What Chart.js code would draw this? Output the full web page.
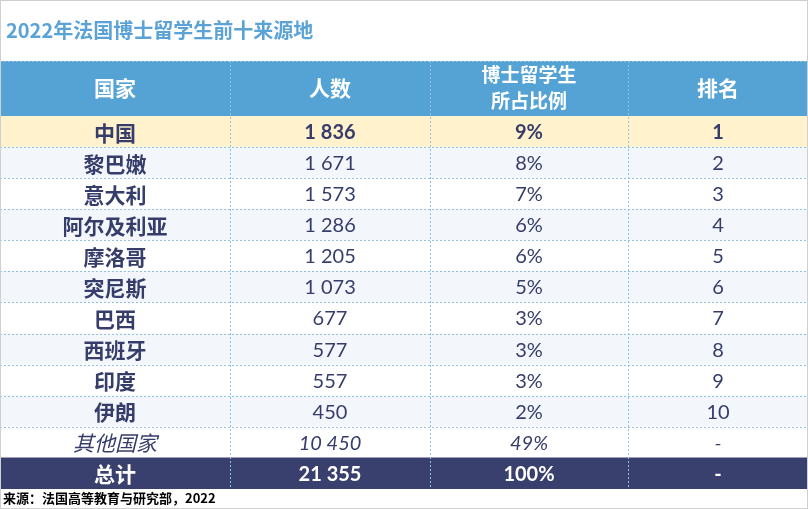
<!DOCTYPE html><html><head><meta charset="utf-8">
<script src="https://cdn.jsdelivr.net/npm/chart.js@4"></script>
<style>html,body{margin:0;padding:0;background:#fff}#w{width:808px;height:509px}</style></head><body><div id="w"><canvas id="c"></canvas></div>
<script>
const title = "2022年法国博士留学生前十来源地";
const headers = ["国家", "人数", "博士留学生\n所占比例", "排名"];
const countries = ["中国","黎巴嫩","意大利","阿尔及利亚","摩洛哥","突尼斯","巴西","西班牙","印度","伊朗","其他国家","总计"];
const counts = ["1 836","1 671","1 573","1 286","1 205","1 073","677","577","557","450","10 450","21 355"];
const shares = ["9%","8%","7%","6%","6%","5%","3%","3%","3%","2%","49%","100%"];
const ranks = ["1","2","3","4","5","6","7","8","9","10","-","-"];
const source = "来源：法国高等教育与研究部，2022";
const colEdges = [0,230,430,628,808];
const rowColors = countries.map((c,i)=> i===0?"#fff2cc": i===countries.length-1?"#3a406e": (i%2===1?"#f3f6fa":"#ffffff"));
const CJK = '"Noto Sans CJK SC"';
const NUM = 'Lato, "Open Sans", sans-serif';
const navy = "#363d6b";

const tablePlugin = {
  id:'table',
  afterDatasetsDraw(chart){
    const ctx = chart.ctx, x = chart.scales.x, y = chart.scales.y;
    const top = chart.chartArea.top, bottom = chart.chartArea.bottom;
    const hTop = 61;
    ctx.save();
    // title
    ctx.fillStyle="#5ba3d6"; ctx.font='bold 20px '+CJK; ctx.textBaseline='middle'; ctx.textAlign='left';
    ctx.fillText(title, 6, 30);
    // header
    ctx.fillStyle="#55a3d5"; ctx.fillRect(x.getPixelForValue(0), hTop, x.getPixelForValue(808)-x.getPixelForValue(0), top-hTop);
    ctx.fillStyle="#fff"; ctx.textAlign='center';
    headers.forEach((h,j)=>{
      const cx = (x.getPixelForValue(colEdges[j])+x.getPixelForValue(colEdges[j+1]))/2;
      const lines = h.split("\n");
      if(lines.length===1){ ctx.font='bold 21px '+CJK; ctx.fillText(h,cx,(hTop+top)/2); }
      else { ctx.font='bold 19px '+CJK; ctx.fillText(lines[0],cx,hTop+14); ctx.fillText(lines[1],cx,hTop+40); }
    });
    // grid lines
    ctx.strokeStyle="#8fc3e4"; ctx.lineWidth=1; ctx.setLineDash([2,2]);
    for(let j=1;j<colEdges.length-1;j++){ const px=Math.round(x.getPixelForValue(colEdges[j]))+0.5; ctx.beginPath(); ctx.moveTo(px,hTop); ctx.lineTo(px,bottom); ctx.stroke(); }
    ctx.beginPath(); ctx.moveTo(0,hTop+0.5); ctx.lineTo(808,hTop+0.5); ctx.stroke();
    for(let i=1;i<countries.length-1;i++){ const py=Math.round(y.getPixelForValue(i)-(y.getPixelForValue(1)-y.getPixelForValue(0))/2)+0.5; ctx.beginPath(); ctx.moveTo(0,py); ctx.lineTo(808,py); ctx.stroke(); }
    ctx.setLineDash([]);
    // cells
    const cols=[countries,counts,shares,ranks];
    countries.forEach((c,i)=>{
      const cy = y.getPixelForValue(i)+1;
      const last = i===countries.length-1, other = i===countries.length-2, bold = i===0||last;
      ctx.fillStyle = last? "#ffffff" : navy;
      cols.forEach((col,j)=>{
        const cx = (x.getPixelForValue(colEdges[j])+x.getPixelForValue(colEdges[j+1]))/2;
        const ff = j===0? CJK : NUM;
        let w = j===0? (other?'':'bold ') : (bold?'bold ':'');
        const st = other?'italic ':'';
        ctx.font = st+w+(j===0?'21px ':'20px ')+ff;
        ctx.fillText(col[i],cx,cy);
      });
    });
    // source
    ctx.fillStyle="#000"; ctx.textAlign='left'; ctx.font='bold 13px '+CJK;
    ctx.fillText(source,3,498);
    ctx.strokeStyle="#d0d0d0"; ctx.strokeRect(0.5,0.5,807,508);
    ctx.restore();
  }
};

new Chart(document.getElementById('c'),{
  type:'bar',
  data:{labels:countries,datasets:[{data:countries.map(()=>[colEdges[0],colEdges[colEdges.length-1]]),backgroundColor:rowColors,barPercentage:1,categoryPercentage:1,borderWidth:0}]},
  options:{indexAxis:'y',responsive:true,maintainAspectRatio:false,animation:false,
    layout:{padding:{top:116,bottom:20,left:0,right:0}},
    plugins:{legend:{display:false},tooltip:{enabled:false}},
    scales:{x:{type:'linear',min:0,max:808,display:false},y:{type:'category',display:false,offset:true}}},
  plugins:[tablePlugin]
});
</script></body></html>
